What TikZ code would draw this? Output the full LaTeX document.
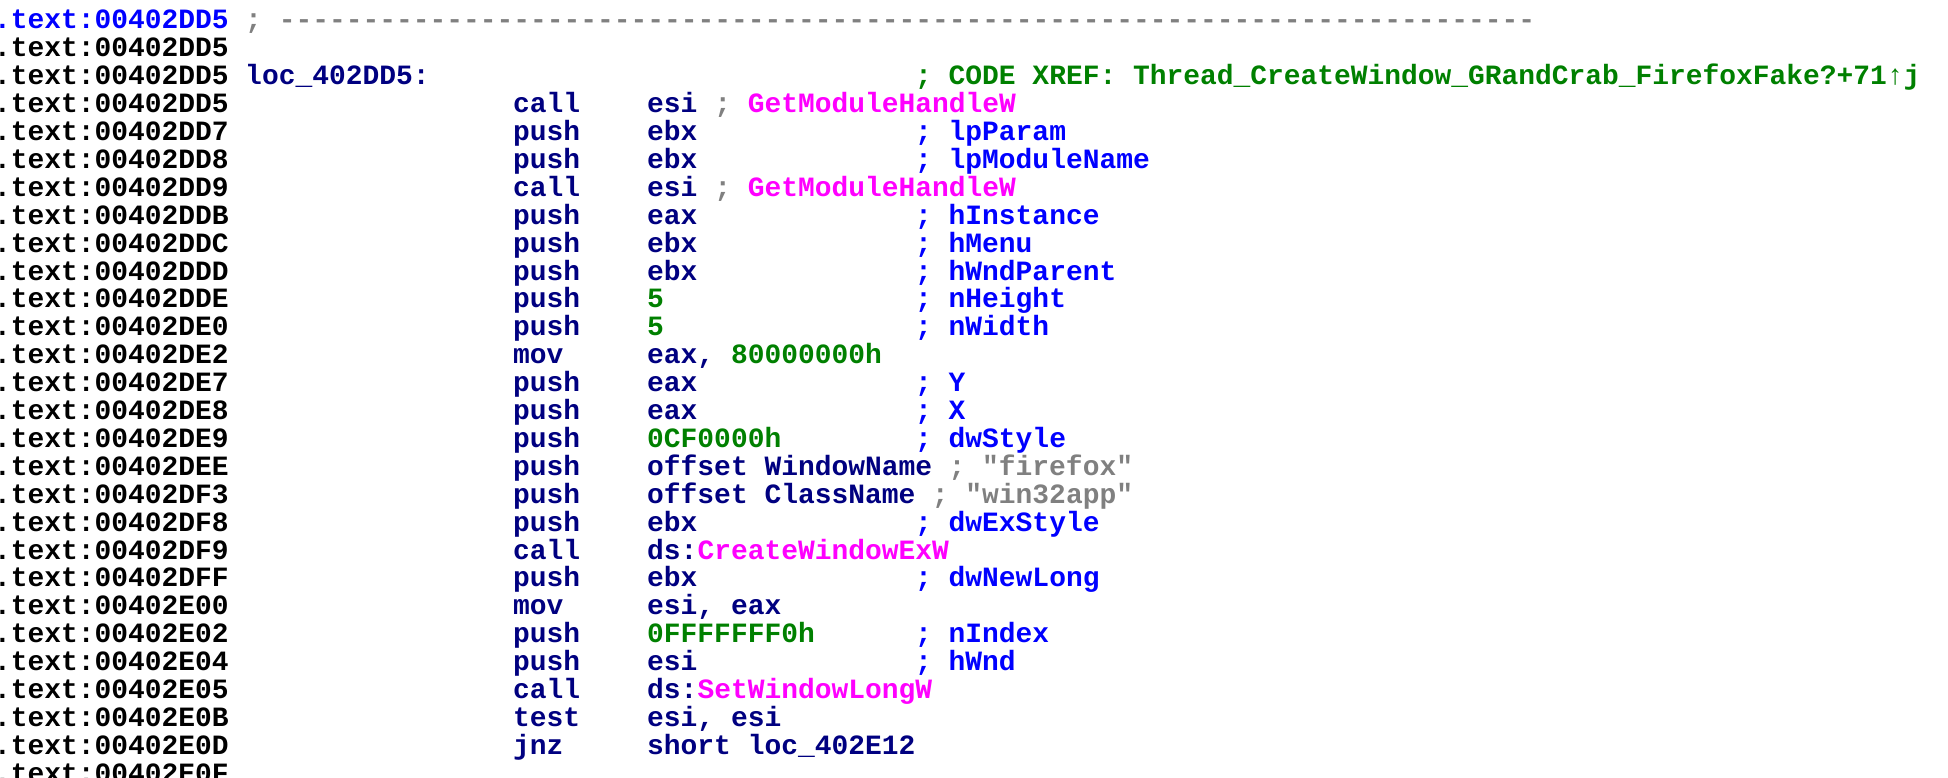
\documentclass[tikz,border=0pt]{standalone}
\usepackage{fontspec}
\newfontfamily\idafont{Liberation Mono}[Ligatures=TeXOff]
\definecolor{idablue}{RGB}{0,0,255}
\definecolor{idanavy}{RGB}{0,0,128}
\definecolor{idagreen}{RGB}{0,128,0}
\definecolor{idagray}{RGB}{128,128,128}
\definecolor{idapink}{RGB}{255,0,255}
\newcommand\idanum[1]{\textcolor{idagreen}{#1}}
\newcommand\idaapi[1]{\textcolor{idapink}{#1}}
\newcommand\idarem[1]{\textcolor{idagray}{#1}}
\begin{document}
\begin{tikzpicture}[x=8.375pt,y=-13.95pt,
		asm/.style={anchor=base west,inner sep=0pt,outer sep=0pt,text=idanavy,
			font=\fontsize{13.96pt}{13.95pt}\idafont\bfseries},
		addr/.style={asm,text=black},
		note/.style={asm,text=idablue}]
	\path (0.358,-1.039) coordinate (TL) (116.66,26.846) coordinate (BR);
	\useasboundingbox (TL) rectangle (BR);
	\clip (TL) rectangle (BR);
	% addresses
	\node[addr,text=idablue] (a0) at (0,0) {.text:00402DD5};
	\foreach \r/\a in {1/DD5,2/DD5,3/DD5,4/DD7,5/DD8,6/DD9,7/DDB,8/DDC,9/DDD,10/DDE,11/DE0,12/DE2,13/DE7,14/DE8,15/DE9,16/DEE,17/DF3,18/DF8,19/DF9,20/DFF,21/E00,22/E02,23/E04,24/E05,25/E0B,26/E0D,27/E0F}
		\node[addr] (a\r) at (0,\r) {.text:00402\a};
	% separator and label
	\node[asm,text=idagray] (sep) at (15,0) {; ---------------------------------------------------------------------------};
	\node[asm] (loc) at (15,2) {loc\_402DD5:};
	\node[asm,text=idagreen] (xref) at (55,2) {; CODE XREF: Thread\_CreateWindow\_GRandCrab\_FirefoxFake?+71↑j};
	% instructions
	\foreach \r/\m/\o in {3/call/{esi \idarem{;} \idaapi{GetModuleHandleW}},4/push/ebx,5/push/ebx,
		6/call/{esi \idarem{;} \idaapi{GetModuleHandleW}},7/push/eax,8/push/ebx,9/push/ebx,
		10/push/\idanum{5},11/push/\idanum{5},12/mov/{eax, \idanum{80000000h}},13/push/eax,14/push/eax,
		15/push/\idanum{0CF0000h},16/push/{offset WindowName},17/push/{offset ClassName},18/push/ebx,
		19/call/{ds:\idaapi{CreateWindowExW}},20/push/ebx,21/mov/{esi, eax},22/push/\idanum{0FFFFFFF0h},
		23/push/esi,24/call/{ds:\idaapi{SetWindowLongW}},25/test/{esi, esi},26/jnz/{short loc\_402E12}}{
		\node[asm] (m\r) at (31,\r) {\m};
		\node[asm] (o\r) at (39,\r) {\o};
	}
	% comments
	\foreach \r/\c in {4/lpParam,5/lpModuleName,7/hInstance,8/hMenu,9/hWndParent,10/nHeight,11/nWidth,
		13/Y,14/X,15/dwStyle,18/dwExStyle,20/dwNewLong,22/nIndex,23/hWnd}
		\node[note] (c\r) at (55,\r) {; \c};
	\node[asm,text=idagray] (c16) at (57,16) {; "firefox"};
	\node[asm,text=idagray] (c17) at (56,17) {; "win32app"};
\end{tikzpicture}
\end{document}
